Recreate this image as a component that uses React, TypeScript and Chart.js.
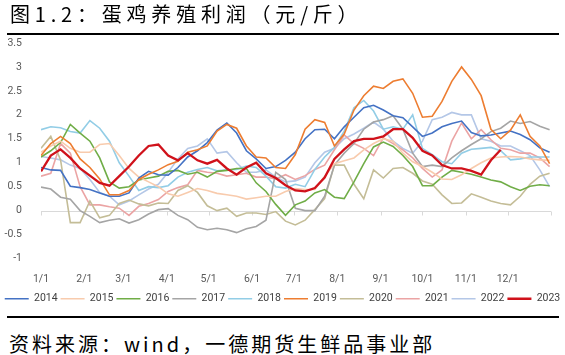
import React, { useEffect, useRef } from 'react';
import { Chart, registerables } from 'chart.js';

Chart.register(...registerables);

// Sample positions: day of year (weekly)
const sampleDays = [0,7,14,21,28,35,42,49,56,63,70,77,84,91,98,105,112,119,126,133,140,147,154,161,168,175,182,189,196,203,210,217,224,231,238,245,252,259,266,273,280,287,294,301,308,315,322,329,336,343,350,357,364];

const monthStarts = [0,31,59,90,120,151,181,212,243,273,304,334,365];
const monthLabels = ['1/1','2/1','3/1','4/1','5/1','6/1','7/1','8/1','9/1','10/1','11/1','12/1',''];

const v2014 = [0.9,0.85,0.84,0.51,0.48,0.44,0.37,0.3,0.3,0.37, 0.68,0.82,0.75,0.74,0.9,1.12,1.25,1.42,1.68,1.83, 1.62,1.25,1.08,0.88,0.92,1.05,1.22,1.5,1.69,1.7, 1.5,1.75,1.95,2.15,2.2,2.1,1.98,1.94,1.75,1.55, 1.62,1.75,1.82,1.87,1.63,1.56,1.58,1.62,1.66,1.59, 1.48,1.31,1.22];
const v2015 = [1.22,1.35,1.45,1.3,1.22,1.22,1.38,1.4,1.15,0.88, 0.7,0.6,0.5,0.35,0.3,0.38,0.46,0.42,0.36,0.33, 0.3,0.24,0.27,0.3,0.3,0.4,0.46,0.44,0.44,0.72, 0.98,1.04,1.1,1.27,1.4,1.5,1.45,1.2,1.02,0.92, 0.8,0.66,0.65,0.75,0.88,1.0,1.1,1.12,1.13,1.12, 1.08,1.06,1.05];
const v2016 = [1.12,1.25,1.42,1.8,1.62,1.45,1.1,0.6,0.47,0.5, 0.64,0.68,0.72,0.82,0.84,0.76,0.8,0.7,0.82,0.84, 0.88,0.88,0.58,0.4,0.13,-0.1,0.12,0.2,0.37,0.44, 0.28,0.25,0.6,0.98,1.33,1.43,1.34,1.15,0.92,0.52, 0.52,0.7,0.84,0.8,0.76,0.7,0.64,0.6,0.5,0.42, 0.51,0.54,0.52];
const v2017 = [0.49,0.45,0.28,0.24,0.0,-0.12,-0.25,-0.2,-0.17,-0.26, -0.19,-0.07,0.02,0.04,-0.1,-0.19,-0.35,-0.4,-0.37,-0.4, -0.46,-0.38,-0.33,-0.2,0.8,0.65,0.05,0.0,0.0,0.3, 0.95,1.2,1.4,1.7,1.85,1.9,1.98,1.7,1.2,0.92, 0.95,0.92,1.1,1.25,1.38,1.5,1.65,1.72,1.87,1.82, 1.86,1.76,1.69];
const v2018 = [1.69,1.75,1.73,1.65,1.62,1.88,1.72,1.45,1.0,0.72, 0.42,0.5,0.48,0.52,0.7,0.8,0.86,0.9,0.83,0.85, 0.86,0.93,0.9,0.72,0.5,0.47,0.55,0.5,0.86,1.12, 1.32,1.66,2.15,2.3,2.08,1.7,1.75,1.7,2.0,1.3, 1.17,1.02,0.98,1.2,1.28,1.3,1.32,1.25,1.06,1.08, 1.12,1.12,1.12];
const v2019 = [1.15,1.4,1.55,1.4,1.08,0.9,0.66,0.33,0.33,0.42, 0.65,0.76,0.85,0.96,1.03,1.22,1.27,1.35,1.66,1.8, 1.72,1.35,1.12,1.1,0.9,0.88,1.17,1.7,1.9,1.84, 1.35,1.6,2.1,2.4,2.6,2.55,2.7,2.75,2.45,1.95, 1.97,2.28,2.7,3.0,2.74,2.4,1.7,1.5,1.68,2.0, 1.55,1.35,0.98];
const v2020 = [1.3,1.55,1.06,-0.25,-0.25,0.2,-0.15,-0.1,0.15,0.22, 0.14,0.1,0.16,0.15,0.42,0.52,0.38,0.1,0.0,0.05, -0.12,-0.05,-0.05,-0.08,-0.02,-0.22,-0.3,-0.2,0.02,0.25, 0.95,0.95,0.55,0.25,0.85,0.68,0.88,0.9,0.78,0.62, 0.55,0.33,0.15,0.16,0.35,0.28,0.2,0.15,0.12,0.3, 0.55,0.72,0.78];
const v2021 = [0.72,0.78,1.4,1.2,0.5,0.12,0.12,0.08,0.05,-0.1, 0.09,0.15,0.23,0.4,0.48,0.54,0.84,0.8,0.78,0.72, 0.75,0.78,0.7,0.7,0.66,0.75,0.65,0.73,0.86,0.95, 1.27,1.58,1.4,1.3,1.15,1.52,1.4,1.27,1.1,0.88, 0.7,0.85,1.45,1.83,1.5,1.69,1.48,1.3,1.27,1.2, 1.2,1.1,0.92];
const v2022 = [1.13,1.1,1.06,0.95,0.88,0.65,0.38,0.3,0.12,0.2, 0.33,0.45,0.55,0.8,1.08,1.3,1.35,1.5,1.2,1.23, 1.0,0.8,0.8,0.85,0.7,0.6,0.62,0.7,1.0,1.22, 1.3,1.5,1.6,1.72,1.85,1.7,1.45,1.3,1.2,1.45, 1.9,1.95,2.05,2.0,2.0,1.5,1.45,1.35,1.35,1.25, 1.15,0.85,0.5];
const v2023 = [0.82,1.15,1.28,1.1,0.88,0.73,0.58,0.52,0.72,0.92, 1.15,1.35,1.38,1.15,1.05,1.2,1.05,0.98,1.06,0.88, 0.75,0.9,1.0,0.78,0.68,0.53,0.42,0.4,0.47,0.69, 1.08,1.28,1.45,1.5,1.5,1.55,1.7,1.7,1.52,1.25, 1.15,0.95,0.88,0.88,0.83,0.75,1.05,1.27];

const seriesNames = ['2014','2015','2016','2017','2018','2019','2020','2021','2022','2023'];
const seriesValues = [v2014, v2015, v2016, v2017, v2018, v2019, v2020, v2021, v2022, v2023];
const seriesColors = ['#4472C4','#F8CBAD','#70AD47','#A5A5A5','#92CDE6','#ED7D31','#C4BD97','#EBA4A4','#B4C7E7','#D0121B'];
const seriesWidths = [1.6,1.6,1.6,1.6,1.6,1.6,1.6,1.6,1.6,2.3];
const seriesOrder = [2,3,3,3,3,1,3,3,3,0];

const tickFont = { family: 'Roboto', size: 10.5 };

const zeroAxis = {
  id: 'zeroAxis',
  beforeDatasetsDraw(chart: any) {
    const { ctx, chartArea, scales } = chart;
    const x = scales.x;
    const y = scales.y;
    const y0 = Math.round(y.getPixelForValue(0)) + 0.5;
    ctx.save();
    ctx.strokeStyle = '#D9D9D9';
    ctx.lineWidth = 1;
    ctx.beginPath();
    ctx.moveTo(chartArea.left, y0);
    ctx.lineTo(chartArea.right, y0);
    monthStarts.forEach((d) => {
      const px = Math.round(x.getPixelForValue(d)) + 0.5;
      ctx.moveTo(px, y0);
      ctx.lineTo(px, y0 + 4);
    });
    ctx.stroke();
    ctx.restore();
  },
};

export default function App() {
  const ref = useRef<HTMLCanvasElement>(null);

  useEffect(() => {
    if (!ref.current) return;
    const datasets = seriesNames.map((name, i) => ({
      label: name,
      data: seriesValues[i].map((v, j) => ({ x: sampleDays[j], y: v })),
      borderColor: seriesColors[i],
      backgroundColor: seriesColors[i],
      borderWidth: seriesWidths[i],
      pointRadius: 0,
      tension: 0,
      fill: false,
      order: seriesOrder[i],
    }));
    const chart = new Chart(ref.current, {
      type: 'line',
      data: { datasets },
      plugins: [zeroAxis],
      options: {
        responsive: false,
        animation: false,
        layout: { padding: { top: 43, left: 0, right: 0, bottom: 0 } },
        plugins: {
          legend: {
            position: 'bottom',
            labels: {
              usePointStyle: true,
              pointStyle: 'line',
              pointStyleWidth: 24,
              boxHeight: 10,
              padding: 3,
              color: '#404040',
              font: tickFont,
              sort: (a: any, b: any) => a.datasetIndex - b.datasetIndex,
            },
          },
          tooltip: { enabled: false },
        },
        scales: {
          x: {
            type: 'linear',
            min: 0,
            max: 365,
            afterBuildTicks: (s: any) => {
              s.ticks = monthStarts.map((v) => ({ value: v }));
            },
            afterFit: (s: any) => {
              s.height = 32;
            },
            ticks: {
              autoSkip: false,
              maxRotation: 0,
              padding: 7,
              color: '#595959',
              font: tickFont,
              callback: (v: any) => {
                const i = monthStarts.indexOf(Number(v));
                return i >= 0 ? monthLabels[i] : '';
              },
            },
            grid: { display: false },
            border: { display: false },
          },
          y: {
            min: -1,
            max: 3.5,
            afterFit: (s: any) => {
              s.width = 41;
            },
            ticks: {
              stepSize: 0.5,
              padding: 11,
              color: '#595959',
              font: tickFont,
              callback: (v: any) => String(Number(v)),
            },
            grid: { display: false },
            border: { display: false },
          },
          yR: {
            position: 'right',
            display: true,
            afterFit: (s: any) => {
              s.width = 14;
            },
            ticks: { display: false },
            grid: { display: false },
            border: { display: false },
          },
        },
      } as any,
    });
    return () => chart.destroy();
  }, []);

  const cjk = '"Noto Sans CJK SC", "Noto Sans", sans-serif';

  return (
    <div style={{ position: 'fixed', left: 0, top: 0, width: 565, height: 355, background: '#fff', overflow: 'hidden' }}>
      <canvas ref={ref} width={565} height={314} style={{ position: 'absolute', left: 0, top: 0, width: 565, height: 314 }} />
      <div style={{ position: 'absolute', left: 10, top: 4, fontFamily: cjk, fontSize: 20, lineHeight: '20px', letterSpacing: '4.8px', color: '#000', whiteSpace: 'nowrap' }}>
        图1.2：蛋鸡养殖利润（元/斤）
      </div>
      <div style={{ position: 'absolute', left: 7, top: 33, width: 552, height: 2, background: '#000' }} />
      <div style={{ position: 'absolute', left: 7, top: 316, width: 552, height: 2, background: '#000' }} />
      <div style={{ position: 'absolute', left: 9, top: 334, fontFamily: cjk, fontSize: 20, lineHeight: '20px', letterSpacing: '3px', color: '#000', whiteSpace: 'nowrap' }}>
        资料来源：wind，一德期货生鲜品事业部
      </div>
    </div>
  );
}
